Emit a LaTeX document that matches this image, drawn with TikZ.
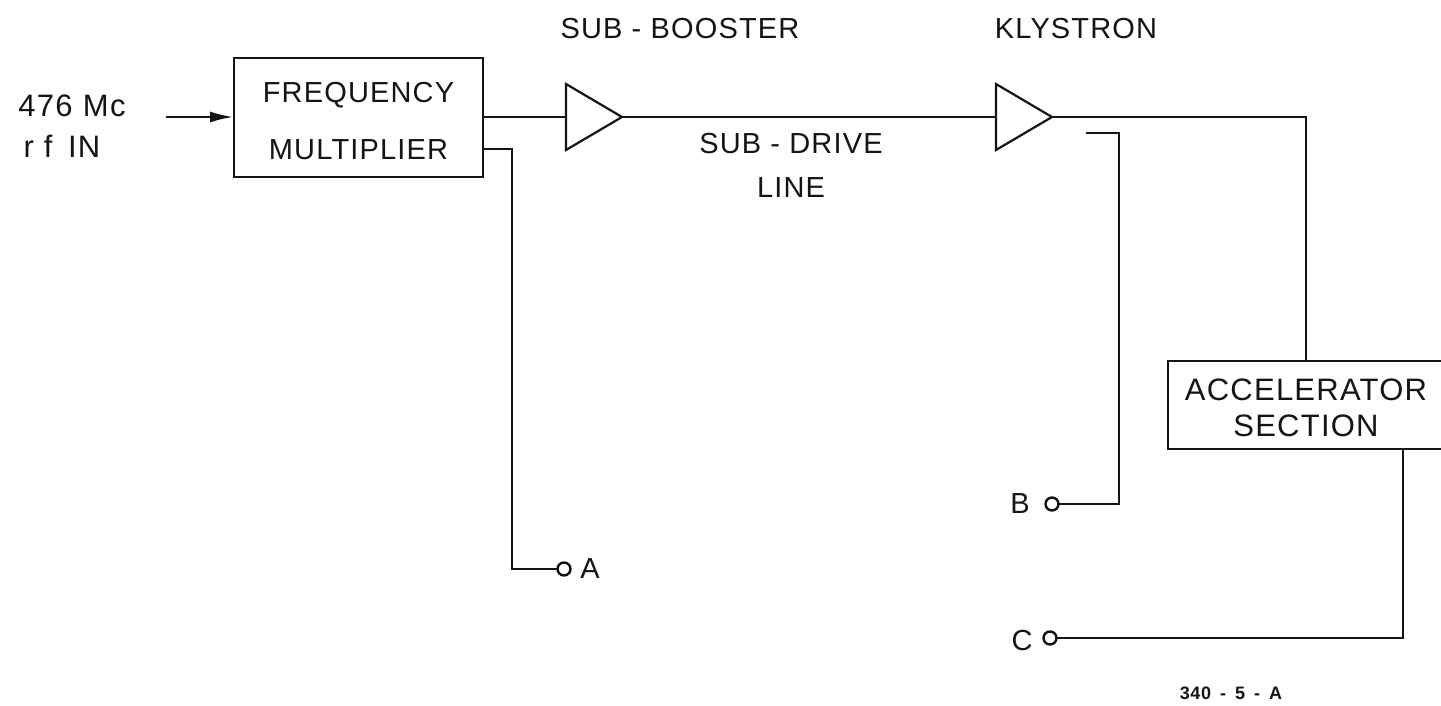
\documentclass[tikz,border=0pt]{standalone}
\usepackage{fontspec}
\setmainfont[LetterSpace=4]{Liberation Sans}
\usetikzlibrary{positioning,arrows.meta,calc,shapes.geometric}
\definecolor{ink}{HTML}{141414}
\tikzset{
  blockbox/.style={draw=ink,line width=2.7pt,align=center,inner sep=0pt,outer sep=0pt,font=\fontsize{29}{#1}\selectfont},
  amptri/.style={draw=ink,line width=2.2pt,isosceles triangle,isosceles triangle stretches,minimum width=66pt,minimum height=56pt,inner sep=0pt,outer sep=0pt,anchor=west},
  wire/.style={draw=ink,line width=2.9pt,line join=miter},
  termring/.style={draw=ink,line width=2.4pt,circle,minimum size=13pt,inner sep=0pt,outer sep=0pt},
  lbl/.style={font=\fontsize{29}{44}\selectfont,align=center,inner sep=0pt}
}
\begin{document}
\begin{tikzpicture}[x=1pt,y=-1pt,every node/.style={text=ink}]
  \useasboundingbox (0,0) rectangle (1441,706);
  \node[blockbox=57pt,minimum width=249pt,minimum height=119pt] (freq) at (358.5,117.5) {\rule{0pt}{28pt}FREQUENCY\\MULTIPLIER};
  \node[amptri] (subamp) at (566,117) {};
  \node[amptri] (klyamp) at (996,117) {};
  \node[blockbox=36pt,minimum width=276pt,minimum height=88pt,font=\fontsize{31}{36}\selectfont] (accel) at (1306,405) {\rule{0pt}{28pt}ACCELERATOR\\SECTION};
  \node[termring] (termA) at (564,569) {};
  \node[termring] (termB) at (1052,504) {};
  \node[termring] (termC) at (1050,638) {};
  \coordinate (rfin) at (166,117);
  \coordinate (multout) at (483,149);
  \coordinate (klyout) at (1086,133);
  % labels
  \node[lbl,font=\fontsize{31}{44}\selectfont] (inlbl) at (72,106) {476\,\,Mc};
  \node[lbl,font=\fontsize{31}{44}\selectfont] (rflbl) at (62,146) {r f\,\,\,IN};
  \node[lbl] (sublbl) at (680,29) {SUB - BOOSTER};
  \node[lbl] (klylbl) at (1076,29) {KLYSTRON};
  \node[lbl] (linelbl) at (791,165) {SUB - DRIVE\\LINE};
  \node[lbl] (lblA) at (590,569) {A};
  \node[lbl] (lblB) at (1020,504) {B};
  \node[lbl] (lblC) at (1022,641) {C};
  \node[font=\bfseries\fontsize{18}{20}\selectfont,inner sep=0pt] (drawno) at (1231,693) {340\,\,\,-\,\,\,5\,\,\,-\,\,\,A};
  % connectors
  \draw[wire,-{Latex[length=24pt,width=11pt]}] (rfin) -- (freq.west |- rfin);
  \draw[wire] (freq.east |- subamp.west) -- (subamp.west);
  \draw[wire] (subamp.east) -- (klyamp.west);
  \draw[wire] (multout) -| (512,569) -- (termA.west);
  \draw[wire] (klyamp.east) -| (accel.north);
  \draw[wire] (klyout) -| (1119,504) -- (termB.east);
  \draw[wire] (accel.south -| 1403,0) |- (termC.east);
\end{tikzpicture}
\end{document}
